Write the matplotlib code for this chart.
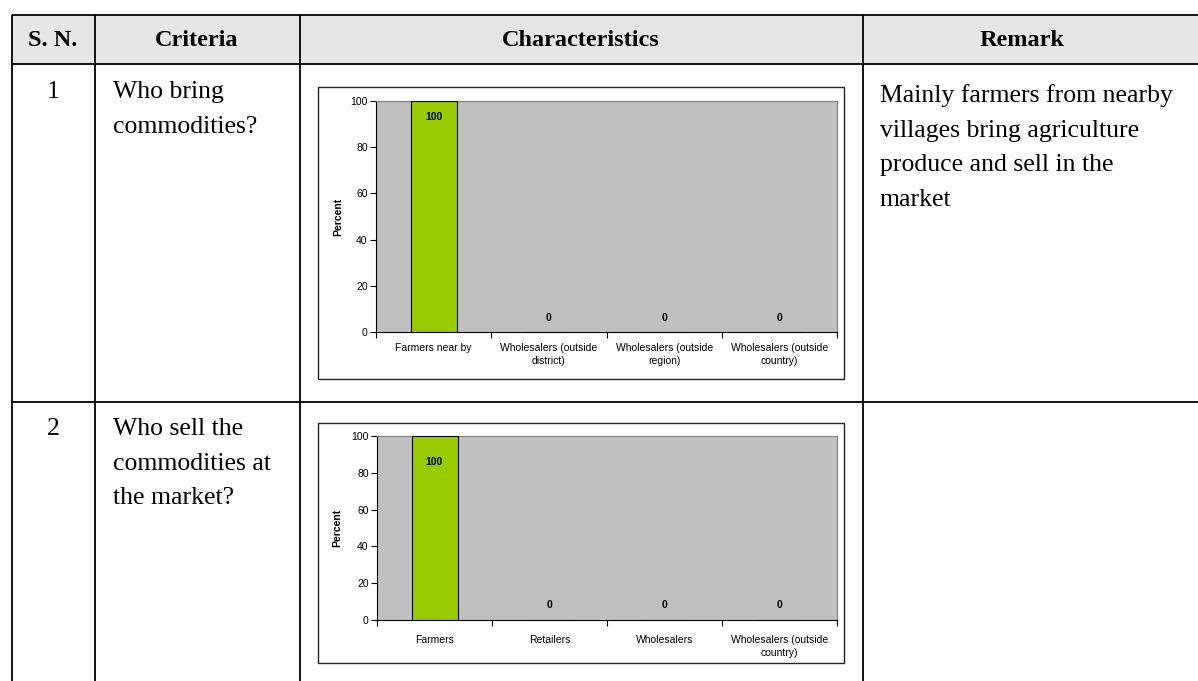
import matplotlib
matplotlib.use("Agg")
import matplotlib.pyplot as plt
import matplotlib.patches as mpatches
import numpy as np

# Table content
HEADERS = ["S. N.", "Criteria", "Characteristics", "Remark"]
ROW_NUMBERS = ["1", "2"]
CRITERIA = [["Who bring", "commodities?"],
            ["Who sell the", "commodities at", "the market?"]]
REMARKS = [["Mainly farmers from nearby", "villages bring agriculture",
            "produce and sell in the", "market"],
           []]

# Chart data
CATS_1 = ["Farmers near by", "Wholesalers (outside\ndistrict)",
          "Wholesalers (outside\nregion)", "Wholesalers (outside\ncountry)"]
VALS_1 = [100, 0, 0, 0]
CATS_2 = ["Farmers", "Retailers", "Wholesalers", "Wholesalers (outside\ncountry)"]
VALS_2 = [100, 0, 0, 0]
Y_TICKS = [0, 20, 40, 60, 80, 100]

W, H = 1198, 681
SERIF = "Liberation Serif"
SANS = "Liberation Sans"
TXT_SIZE = 18.5
HEAD_SIZE = 17.5

fig = plt.figure(figsize=(W / 100, H / 100), dpi=100)
bg = fig.add_axes([0, 0, 1, 1])
bg.set_xlim(0, W)
bg.set_ylim(H, 0)
bg.axis("off")


def px_rect(x0, y0, x1, y1):
    return [x0 / W, 1 - y1 / H, (x1 - x0) / W, (y1 - y0) / H]


# table grid
col_x = [12, 95, 300, 863]
top_y, head_y, row_y = 15, 64, 402
bg.add_patch(mpatches.Rectangle((12, top_y), W - 12 + 5, head_y - top_y,
                                facecolor="#e6e6e6", edgecolor="none"))
lw = 1.3
for y in [top_y, head_y, row_y]:
    bg.plot([12, W + 5], [y, y], color="black", lw=lw, solid_capstyle="butt")
for x in col_x:
    bg.plot([x, x], [top_y, H + 5], color="black", lw=lw, solid_capstyle="butt")

# headers
head_cx = [53, 197, 581, 1022]
for cx, h in zip(head_cx, HEADERS):
    bg.text(cx, 40, h, ha="center", va="center", fontsize=HEAD_SIZE,
            fontweight="bold", family=SERIF)

# rows
row_first = [92, 429]
line_gap = 34.6
for i in range(2):
    bg.text(53, row_first[i], ROW_NUMBERS[i], ha="center", va="center",
            fontsize=TXT_SIZE, family=SERIF)
    for j, line in enumerate(CRITERIA[i]):
        bg.text(113, row_first[i] + j * line_gap, line, ha="left", va="center",
                fontsize=TXT_SIZE, family=SERIF)
    for j, line in enumerate(REMARKS[i]):
        bg.text(880, 96 + j * line_gap, line, ha="left", va="center",
                fontsize=TXT_SIZE, family=SERIF)


def draw_chart(box, plot, cats, vals, top_off, zero_off, ylab_x, lab_pad):
    bx0, by0, bx1, by1 = box
    bg.add_patch(mpatches.Rectangle((bx0, by0), bx1 - bx0, by1 - by0,
                                    facecolor="white", edgecolor="#222222", lw=1.0))
    ax = fig.add_axes(px_rect(*plot))
    ax.set_facecolor("#c0c0c0")
    x = np.arange(len(cats))
    ax.bar(x, vals, width=0.4, color="#99cc00", edgecolor="black", lw=0.8, zorder=3)
    ax.set_xlim(-0.5, len(cats) - 0.5)
    ax.set_ylim(0, 100)
    ax.set_yticks(Y_TICKS)
    ax.set_yticklabels([str(t) for t in Y_TICKS], fontsize=7.5, family=SANS)
    ax.set_xticks(x)
    ax.set_xticklabels(cats, fontsize=7.5, family=SANS, linespacing=1.3)
    ax.tick_params(axis="x", which="major", length=0, pad=lab_pad)
    ax.set_xticks(np.arange(len(cats) + 1) - 0.5, minor=True)
    ax.tick_params(axis="x", which="minor", length=4, width=0.8, direction="out")
    ax.tick_params(axis="y", length=4, width=0.8, direction="out", pad=2)
    for s in ["top", "right"]:
        ax.spines[s].set_color("#808080")
        ax.spines[s].set_linewidth(0.8)
    for s in ["left", "bottom"]:
        ax.spines[s].set_color("black")
        ax.spines[s].set_linewidth(0.8)
    ax.set_ylabel("Percent", fontsize=7.5, fontweight="bold", family=SANS)
    ax.yaxis.set_label_coords(ylab_x, 0.5)
    for xi, v in zip(x, vals):
        off = -top_off if v > 0 else zero_off
        ax.annotate(str(v), (xi, v), xytext=(0, off), textcoords="offset pixels",
                    ha="center", va="center", fontsize=7.5, fontweight="bold",
                    family=SANS, zorder=4)
    return ax


draw_chart((318, 87, 844, 379), (376, 101, 837, 332), CATS_1, VALS_1, 16, 14, -0.07, 8)
draw_chart((318, 423, 844, 663), (377, 436, 837, 620), CATS_2, VALS_2, 26, 15, -0.075, 11)

fig.savefig("out.png", dpi=100)
